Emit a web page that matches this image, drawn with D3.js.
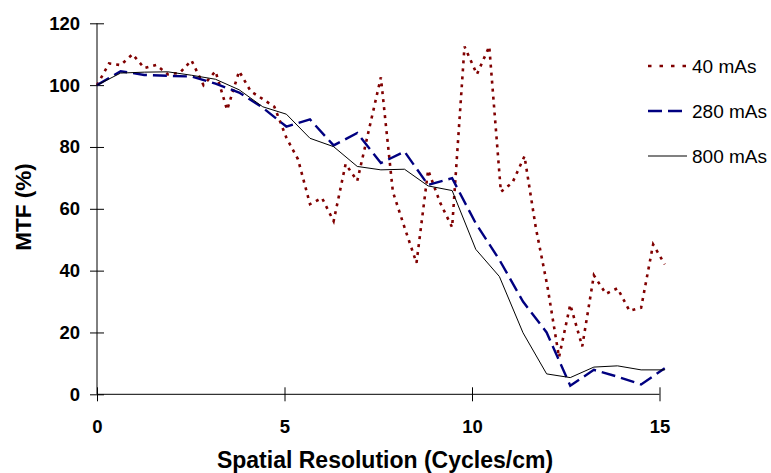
<!DOCTYPE html>
<html>
<head>
<meta charset="utf-8">
<script src="https://cdn.jsdelivr.net/npm/d3@7"></script>
<style>
  body { margin: 0; background: #fff; }
  svg { font-family: "Liberation Sans", Arial, sans-serif; }
</style>
</head>
<body>
<svg id="chart" width="771" height="473"></svg>
<script>
// spatial frequencies (cycles/cm) of the sample points
var freqCoarse = [0, 0.63, 1.26, 1.89, 2.52, 3.16, 3.79, 4.42, 5.05, 5.68, 6.31, 6.94, 7.57,
	8.2, 8.83, 9.47, 10.1, 10.73, 11.36, 11.99, 12.62, 13.25, 13.88, 14.51, 15.14];
var freqFine = [0, 0.32, 0.63, 0.95, 1.26, 1.58, 1.89, 2.21, 2.52, 2.84, 3.16, 3.47, 3.79,
	4.1, 4.42, 4.73, 5.05, 5.36, 5.68, 6.0, 6.31, 6.63, 6.94, 7.26, 7.57, 7.89, 8.2, 8.52,
	8.83, 9.15, 9.47, 9.8, 10.13, 10.46, 10.77, 11.08, 11.4, 11.7, 12.01, 12.32, 12.62,
	12.94, 13.25, 13.57, 13.88, 14.2, 14.51, 14.83, 15.14];

// MTF (%) for each exposure
var mtf40 = [100, 107, 106.5, 110, 105.5, 106.5, 103.5, 104, 108, 100, 104.5, 92, 104.5,
	98, 95.5, 93, 83, 76, 61.5, 63.5, 56, 74.5, 69, 86, 102.5, 65.5, 54, 42.5, 72.5, 62,
	54, 112.5, 103.5, 112.5, 65.5, 68.5, 77, 54, 35, 12, 29, 15.5, 38.5, 32.5, 34.3, 27,
	28, 48.5, 42];
var mtf280 = [100, 104.5, 103.3, 103, 102.8, 100.5, 97.6, 92.7, 86.6, 88.9, 80.5, 84.5,
	74.8, 78.5, 67.7, 69.9, 55.3, 43.5, 30, 20, 2.8, 7.9, 5.7, 3.2, 8.4];
var mtf800 = [100, 103.9, 104.2, 104.3, 103.2, 101.9, 98.5, 93, 90.6, 82.8, 80.1, 73.7,
	72.6, 72.8, 67.4, 65.9, 46.9, 38.1, 19.9, 6.6, 5.4, 8.8, 9.2, 7.9, 7.9];

var seriesNames = ['40 mAs', '280 mAs', '800 mAs'];
var xTicks = [0, 5, 10, 15];
var yTicks = [0, 20, 40, 60, 80, 100, 120];

var series = [
	{ name: seriesNames[0], x: freqFine, y: mtf40, color: '#800000', width: 2.6, dash: '3,5' },
	{ name: seriesNames[1], x: freqCoarse, y: mtf280, color: '#000080', width: 2.4, dash: '14,6' },
	{ name: seriesNames[2], x: freqCoarse, y: mtf800, color: '#000', width: 1, dash: null }
];

var svg = d3.select('svg#chart');

var xScale = d3.scaleLinear().domain([0, 15]).range([97, 659.5]);
var yScale = d3.scaleLinear().domain([0, 120]).range([394.3, 23.3]);

// y axis, ticks crossing the line
var yAxis = svg.append('g')
	.attr('transform', 'translate(97,0)')
	.call(d3.axisLeft(yScale).tickValues(yTicks).tickSize(7).tickPadding(10));
yAxis.select('.domain').attr('d', 'M0,' + yScale(0) + 'V' + yScale(120));
yAxis.selectAll('.tick line').attr('x1', 7);
yAxis.selectAll('text')
	.style('font-size', '18.5px')
	.style('font-weight', 'bold')
	.style('font-family', '"Liberation Sans", Arial, sans-serif');

// x axis
var xAxis = svg.append('g')
	.attr('transform', 'translate(0,' + yScale(0) + ')')
	.call(d3.axisBottom(xScale).tickValues(xTicks).tickSize(7).tickPadding(19));
xAxis.select('.domain').attr('d', 'M' + xScale(0) + ',0H' + xScale(15));
xAxis.selectAll('.tick line').attr('y1', -7);
xAxis.selectAll('text')
	.style('font-size', '18.5px')
	.style('font-weight', 'bold')
	.style('font-family', '"Liberation Sans", Arial, sans-serif');

svg.selectAll('.domain, .tick line').attr('stroke', '#000');

// series lines
var line = d3.line()
	.x(function (d) { return xScale(d[0]); })
	.y(function (d) { return yScale(d[1]); });

series.forEach(function (s) {
	var pts = s.x.map(function (v, i) { return [v, s.y[i]]; });
	svg.append('path')
		.datum(pts)
		.attr('d', line)
		.attr('fill', 'none')
		.attr('stroke', s.color)
		.attr('stroke-width', s.width)
		.attr('stroke-dasharray', s.dash);
});

// axis titles
svg.append('text')
	.attr('x', 385)
	.attr('y', 468)
	.attr('text-anchor', 'middle')
	.style('font-size', '23px')
	.style('font-weight', 'bold')
	.text('Spatial Resolution (Cycles/cm)');

svg.append('text')
	.attr('transform', 'translate(31,207) rotate(-90)')
	.attr('text-anchor', 'middle')
	.style('font-size', '22.5px')
	.style('font-weight', 'bold')
	.text('MTF (%)');

// legend
var legend = svg.selectAll('g.legend')
	.data(series)
	.enter()
	.append('g')
	.attr('class', 'legend')
	.attr('transform', function (d, i) { return 'translate(648,' + (66 + i * 45) + ')'; });

legend.append('line')
	.attr('x1', 0)
	.attr('x2', 39)
	.attr('stroke', function (d) { return d.name === '800 mAs' ? '#808080' : d.color; })
	.attr('stroke-width', function (d) { return d.name === '800 mAs' ? 2 : d.width; })
	.attr('stroke-dasharray', function (d) { return d.name === '40 mAs' ? '3.5,8' : d.dash; });

legend.append('text')
	.attr('x', 44)
	.attr('dy', '0.35em')
	.style('font-size', '19px')
	.text(function (d) { return d.name; });
</script>
</body>
</html>
